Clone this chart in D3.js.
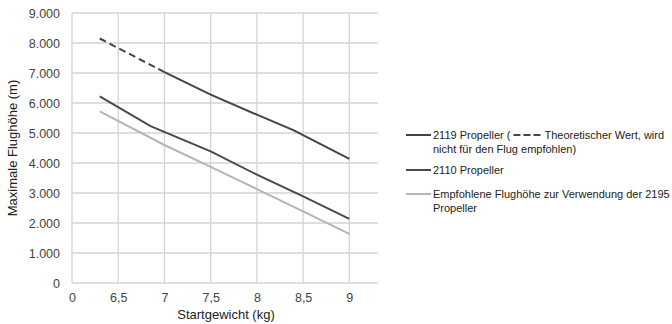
<!DOCTYPE html>
<html>
<head>
<meta charset="utf-8">
<script src="https://cdn.jsdelivr.net/npm/d3@7"></script>
<style>
  body { margin: 0; background: #fff; }
  svg { font-family: "Liberation Sans", Arial, sans-serif; }
</style>
</head>
<body>
<div id="chart"></div>
<script>
// x position 6 stands for the "0" tick (the axis is cut between 0 and 6,5)
const xTicks = [6, 6.5, 7, 7.5, 8, 8.5, 9];
const xTickLabels = ['0', '6,5', '7', '7,5', '8', '8,5', '9'];
const yTicks = [0, 1000, 2000, 3000, 4000, 5000, 6000, 7000, 8000, 9000];

// 2119 Propeller: theoretischer Teil (gestrichelt) und normaler Teil
const w2119Dash = [6.3, 7];
const v2119Dash = [8150, 7030];
const w2119 = [7, 7.5, 8, 8.4, 9];
const v2119 = [7030, 6280, 5610, 5090, 4140];

const w2110 = [6.3, 6.85, 7.5, 8, 8.5, 9];
const v2110 = [6220, 5230, 4390, 3610, 2890, 2135];

const w2195 = [6.3, 7, 7.5, 8, 8.5, 9];
const v2195 = [5720, 4600, 3870, 3130, 2390, 1635];

const width = 672, height = 324;
const margin = { top: 13, left: 72, right: 294, bottom: 41 };

const svg = d3.select('#chart').append('svg')
  .attr('width', width)
  .attr('height', height);

const x = d3.scaleLinear()
  .domain([6, 9.31])
  .range([margin.left, width - margin.right]);

const y = d3.scaleLinear()
  .domain([0, 9000])
  .range([height - margin.bottom, margin.top]);

// Gitter
svg.append('g').selectAll('line.h')
  .data(yTicks)
  .enter().append('line')
  .attr('x1', x(6)).attr('x2', x(9.31))
  .attr('y1', d => y(d)).attr('y2', d => y(d))
  .attr('stroke', '#d4d4d4').attr('stroke-width', 1.3);

svg.append('g').selectAll('line.v')
  .data(xTicks)
  .enter().append('line')
  .attr('x1', d => x(d)).attr('x2', d => x(d))
  .attr('y1', y(0)).attr('y2', y(9000))
  .attr('stroke', '#d4d4d4').attr('stroke-width', 1.3);

// Achsen
const yAxis = svg.append('g')
  .attr('transform', 'translate(' + (margin.left - 9) + ',0)')
  .call(d3.axisLeft(y).tickValues(yTicks).tickSize(0)
    .tickFormat(d => d === 0 ? '0' : d3.format(',')(d).replace(',', '.')));
yAxis.select('.domain').remove();
yAxis.selectAll('text').attr('font-size', 12.5).attr('fill', '#444')
  .attr('font-family', '"Liberation Sans", Arial, sans-serif');

const xAxis = svg.append('g')
  .attr('transform', 'translate(0,' + (y(0) + 7) + ')')
  .call(d3.axisBottom(x).tickValues(xTicks).tickSize(0)
    .tickFormat((d, i) => xTickLabels[i]));
xAxis.select('.domain').remove();
xAxis.selectAll('text').attr('font-size', 12.5).attr('fill', '#444')
  .attr('font-family', '"Liberation Sans", Arial, sans-serif');

svg.append('text')
  .attr('x', (x(6) + x(9.31)) / 2 + 1)
  .attr('y', 319)
  .attr('text-anchor', 'middle')
  .attr('font-size', 13)
  .attr('fill', '#222')
  .text('Startgewicht (kg)');

svg.append('text')
  .attr('transform', 'translate(17,' + (y(4500)) + ') rotate(-90)')
  .attr('text-anchor', 'middle')
  .attr('font-size', 13)
  .attr('fill', '#222')
  .text('Maximale Flughöhe (m)');

// Linien
const line = d3.line()
  .x(d => x(d[0]))
  .y(d => y(d[1]));

const dark = '#444';
const light = '#b5b5b5';

svg.append('path')
  .datum(d3.zip(w2119Dash, v2119Dash))
  .attr('d', line).attr('fill', 'none')
  .attr('stroke', dark).attr('stroke-width', 2)
  .attr('stroke-dasharray', '7,4');

svg.append('path')
  .datum(d3.zip(w2119, v2119))
  .attr('d', line).attr('fill', 'none')
  .attr('stroke', dark).attr('stroke-width', 2);

svg.append('path')
  .datum(d3.zip(w2110, v2110))
  .attr('d', line).attr('fill', 'none')
  .attr('stroke', '#4a4a4a').attr('stroke-width', 2);

svg.append('path')
  .datum(d3.zip(w2195, v2195))
  .attr('d', line).attr('fill', 'none')
  .attr('stroke', light).attr('stroke-width', 2);

// Legende
const lg = svg.append('g').attr('font-size', 11).attr('fill', '#222');
const lx1 = 406, lx2 = 431, tx = 433;

function legendLine(yy, color) {
  lg.append('line')
    .attr('x1', lx1).attr('x2', lx2)
    .attr('y1', yy).attr('y2', yy)
    .attr('stroke', color).attr('stroke-width', 2);
}

legendLine(135, dark);
const t1 = lg.append('text').attr('x', tx).attr('y', 139).text('2119 Propeller (');
const t1w = t1.node().getComputedTextLength();
lg.append('line')
  .attr('x1', tx + t1w + 3).attr('x2', tx + t1w + 31)
  .attr('y1', 135).attr('y2', 135)
  .attr('stroke', dark).attr('stroke-width', 2)
  .attr('stroke-dasharray', '7,3');
lg.append('text').attr('x', tx + t1w + 34).attr('y', 139).text('Theoretischer Wert, wird');
lg.append('text').attr('x', tx).attr('y', 153).text('nicht für den Flug empfohlen)');

legendLine(170, '#4a4a4a');
lg.append('text').attr('x', tx).attr('y', 174).text('2110 Propeller');

legendLine(194, light);
lg.append('text').attr('x', tx).attr('y', 198).text('Empfohlene Flughöhe zur Verwendung der 2195');
lg.append('text').attr('x', tx).attr('y', 212).text('Propeller');
</script>
</body>
</html>
